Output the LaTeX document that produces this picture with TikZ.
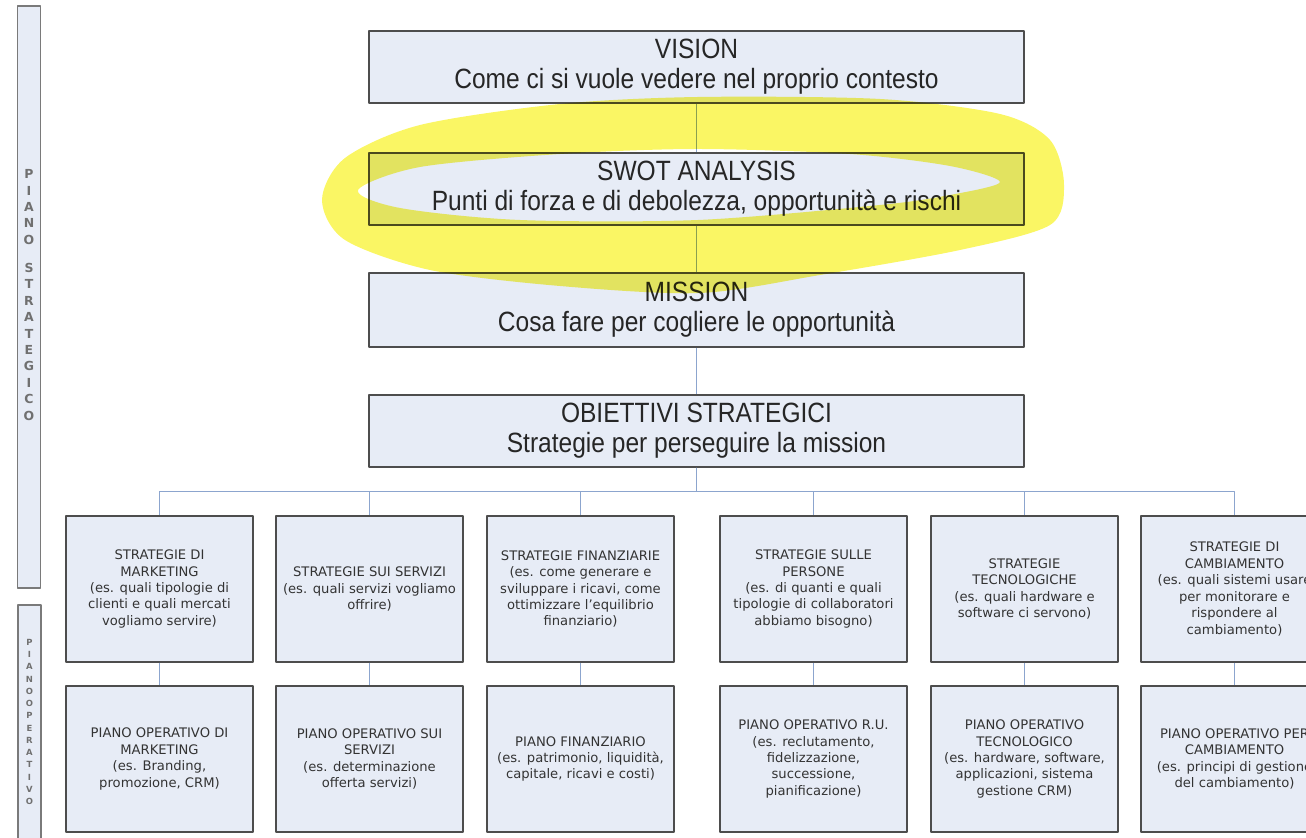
\documentclass[tikz,border=0pt]{standalone}
\usepackage{fontspec}
\setmainfont{DejaVu Sans}
\newfontfamily\narrowsans[FakeStretch=0.88]{Liberation Sans}

\definecolor{boxfill}{HTML}{E7ECF6}
\definecolor{boxline}{HTML}{4D4D4D}
\definecolor{linkcol}{HTML}{8CA5CE}
\definecolor{barline}{HTML}{7A7A7A}
\definecolor{bartext}{HTML}{707070}
\definecolor{textcol}{HTML}{333333}
\definecolor{marker}{RGB}{250,246,100}

\begin{document}
\begin{tikzpicture}[line join=bevel,
  topbox/.style={draw=boxline,fill=boxfill,line width=1.4bp,minimum width=655bp,minimum height=72bp,inner sep=0pt,align=center,text=black!85,font=\narrowsans\fontsize{28}{30}\selectfont},
  stratbox/.style={draw=boxline,fill=boxfill,line width=1.4bp,minimum width=187bp,minimum height=146bp,inner sep=0pt,align=center,text=textcol,font=\fontsize{13.2}{16.5}\selectfont},
  sidebar/.style={draw=barline,fill=boxfill,line width=1.8bp,minimum width=23bp,inner sep=0pt},
  link/.style={draw=linkcol,line width=1.2bp},
]

\useasboundingbox (0bp,0bp) rectangle (1306bp,838bp);
\pgfsetlinewidth{1bp}
\pgfsetcolor{black}

% Side bars
\draw (29bp,541bp) node[sidebar,minimum height=582bp] (barstrat) {};
\draw (29bp,543bp) node[align=center,text=bartext,inner sep=0pt,font=\bfseries\fontsize{12.5}{16.5}\selectfont] (labstrat)
  {P\\I\\A\\N\\O\\[11.5bp]S\\T\\R\\A\\T\\E\\G\\I\\C\\O};
\draw (29.5bp,110.5bp) node[sidebar,minimum height=245bp] (baroper) {};
\draw (29.5bp,116bp) node[align=center,text=bartext,inner sep=0pt,font=\bfseries\fontsize{8.5}{12.3}\selectfont] (laboper)
  {P\\I\\A\\N\\O\\O\\P\\E\\R\\A\\T\\I\\V\\O};

% Node: vision
\draw (696.5bp,771bp) node[topbox] (vision) {VISION\\Come ci si vuole vedere nel proprio contesto};
% Node: swot
\draw (696.5bp,649bp) node[topbox] (swot) {SWOT ANALYSIS\\Punti di forza e di debolezza, opportunità e rischi};
% Node: mission
\draw (696.5bp,528bp) node[topbox,minimum height=74bp] (mission) {MISSION\\Cosa fare per cogliere le opportunità};
% Node: obiettivi
\draw (696.5bp,407bp) node[topbox] (obiettivi) {OBIETTIVI STRATEGICI\\Strategie per perseguire la mission};

% Nodes: strategie
\draw (159.5bp,249bp) node[stratbox] (smkt) {STRATEGIE DI\\MARKETING\\(es. quali tipologie di\\clienti e quali mercati\\vogliamo servire)};
\draw (369.5bp,249bp) node[stratbox] (sserv) {STRATEGIE SUI SERVIZI\\(es. quali servizi vogliamo\\offrire)};
\draw (580.5bp,249bp) node[stratbox] (sfin) {STRATEGIE FINANZIARIE\\(es. come generare e\\sviluppare i ricavi, come\\ottimizzare l'equilibrio\\finanziario)};
\draw (813.5bp,249bp) node[stratbox] (spers) {STRATEGIE SULLE\\PERSONE\\(es. di quanti e quali\\tipologie di collaboratori\\abbiamo bisogno)};
\draw (1024.5bp,249bp) node[stratbox] (stec) {STRATEGIE\\TECNOLOGICHE\\(es. quali hardware e\\software ci servono)};
\draw (1234.5bp,249bp) node[stratbox] (scamb) {STRATEGIE DI\\CAMBIAMENTO\\(es. quali sistemi usare\\per monitorare e\\rispondere al\\cambiamento)};

% Nodes: piani operativi
\draw (159.5bp,79bp) node[stratbox] (pmkt) {PIANO OPERATIVO DI\\MARKETING\\(es. Branding,\\promozione, CRM)};
\draw (369.5bp,79bp) node[stratbox] (pserv) {PIANO OPERATIVO SUI\\SERVIZI\\(es. determinazione\\offerta servizi)};
\draw (580.5bp,79bp) node[stratbox] (pfin) {PIANO FINANZIARIO\\(es. patrimonio, liquidità,\\capitale, ricavi e costi)};
\draw (813.5bp,79bp) node[stratbox] (pru) {PIANO OPERATIVO R.U.\\(es. reclutamento,\\fidelizzazione,\\successione,\\pianificazione)};
\draw (1024.5bp,79bp) node[stratbox] (ptec) {PIANO OPERATIVO\\TECNOLOGICO\\(es. hardware, software,\\applicazioni, sistema\\gestione CRM)};
\draw (1234.5bp,79bp) node[stratbox] (pcamb) {PIANO OPERATIVO PER\\CAMBIAMENTO\\(es. principi di gestione\\del cambiamento)};

% Edge: vision -> swot -> mission -> obiettivi
\draw [link] (vision) -- (swot);
\draw [link] (swot) -- (mission);
\draw [link] (mission) -- (obiettivi);

% Edge: obiettivi -> strategie
\draw [link] (obiettivi.south) -- ++(0bp,-24bp) -| (smkt.north);
\draw [link] (obiettivi.south) -- ++(0bp,-24bp) -| (sserv.north);
\draw [link] (obiettivi.south) -- ++(0bp,-24bp) -| (sfin.north);
\draw [link] (obiettivi.south) -- ++(0bp,-24bp) -| (spers.north);
\draw [link] (obiettivi.south) -- ++(0bp,-24bp) -| (stec.north);
\draw [link] (obiettivi.south) -- ++(0bp,-24bp) -| (scamb.north);

% Edge: strategie -> piani
\draw [link] (smkt) -- (pmkt);
\draw [link] (sserv) -- (pserv);
\draw [link] (sfin) -- (pfin);
\draw [link] (spers) -- (pru);
\draw [link] (stec) -- (ptec);
\draw [link] (scamb) -- (pcamb);

% Highlight round swot
\fill [marker,blend mode=multiply,even odd rule]
  plot [smooth cycle] coordinates {(322bp,638bp) (345bp,680bp) (420bp,713bp) (560bp,734bp) (698bp,741bp) (880bp,739bp) (1000bp,724bp) (1050bp,698bp) (1064bp,653bp) (1050bp,613bp) (960bp,588bp) (820bp,563bp) (700bp,545bp) (560bp,552bp) (430bp,568bp) (345bp,598bp)}
  plot [smooth cycle] coordinates {(358bp,648bp) (420bp,671bp) (560bp,684bp) (698bp,689bp) (850bp,684bp) (950bp,672bp) (1000bp,656bp) (950bp,643bp) (880bp,633bp) (698bp,618bp) (520bp,618bp) (400bp,630bp)};

\end{tikzpicture}
\end{document}
